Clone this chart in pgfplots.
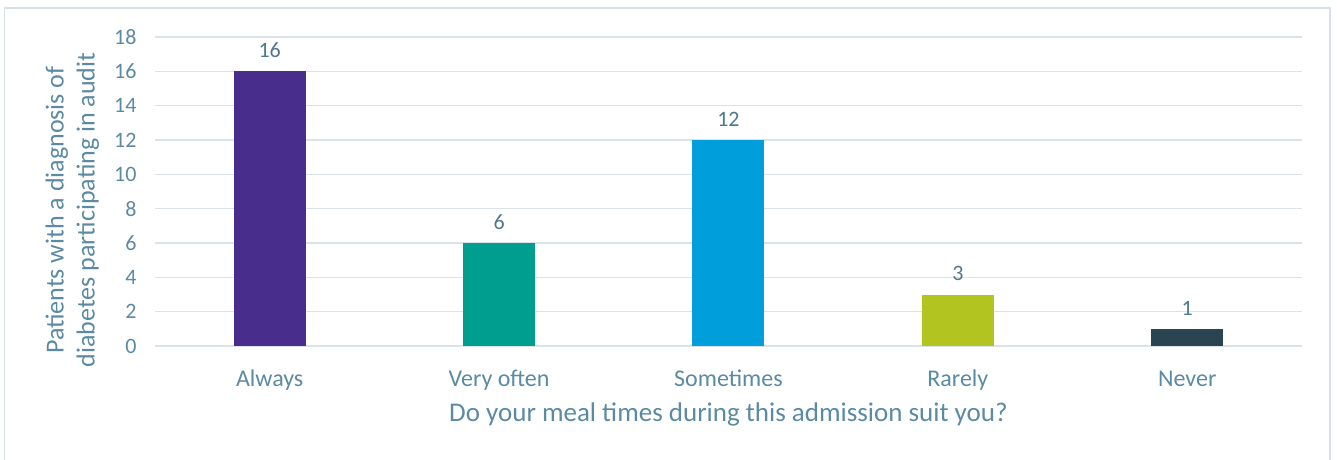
\documentclass[border=0pt]{standalone}
\usepackage{pgfplots}
\pgfplotsset{compat=1.18}
\usepackage{fontspec}
\setmainfont{Carlito}
\definecolor{txt}{HTML}{5B8AA3}
\definecolor{vtxt}{HTML}{4F7890}
\definecolor{gridc}{HTML}{D9E3E9}
\definecolor{framec}{HTML}{D6E0E6}
\definecolor{c1}{HTML}{482D8C}
\definecolor{c2}{HTML}{009E8F}
\definecolor{c3}{HTML}{009FDB}
\definecolor{c4}{HTML}{B1C41F}
\definecolor{c5}{HTML}{2B4452}
\begin{document}
\begin{tikzpicture}[x=1pt,y=1pt]
\path[use as bounding box] (0,0) rectangle (1337,459);
\draw[framec, line width=1.5pt] (4.5,-5) -- (4.5,451) -- (1330,451) -- (1330,-5);
\begin{axis}[
  at={(155pt,113pt)}, anchor=south west,
  scale only axis, width=1147pt, height=309pt,
  xmin=-0.5, xmax=4.5, ymin=0, ymax=18,
  ytick={0,2,...,18}, xtick={0,1,2,3,4},
  xticklabels={Always,Very often,Sometimes,Rarely,Never},
  axis line style={draw=none},
  ymajorgrids, grid style={gridc, line width=1.5pt},
  major tick length=0pt,
  /pgf/number format/assume math mode=true,
  yticklabel style={font=\fontsize{22}{26}\selectfont, text=txt, xshift=-15pt},
  xticklabel style={font=\fontsize{24}{28}\selectfont, text=txt, anchor=base, yshift=-40pt},
  xlabel={Do your meal times during this admission suit you?},
  xlabel style={font=\fontsize{27}{31}\selectfont, text=txt, at={(axis description cs:0.5,-0.22)}, anchor=center},
  ylabel={Patients with a diagnosis of\\diabetes participating in audit},
  ylabel style={font=\fontsize{26}{31}\selectfont, text=txt, align=center, at={(axis description cs:-0.072,0.44)}, anchor=center, rotate=0},
  ybar, bar width=72pt, bar shift=0pt,
  nodes near coords,
  every node near coord/.append style={font=\fontsize{22}{26}\selectfont, text=vtxt, yshift=10pt},
  clip=false,
]
\addplot[fill=c1, draw=none] coordinates {(0,16)};
\addplot[fill=c2, draw=none] coordinates {(1,6)};
\addplot[fill=c3, draw=none] coordinates {(2,12)};
\addplot[fill=c4, draw=none] coordinates {(3,3)};
\addplot[fill=c5, draw=none] coordinates {(4,1)};
\end{axis}
\end{tikzpicture}
\end{document}
